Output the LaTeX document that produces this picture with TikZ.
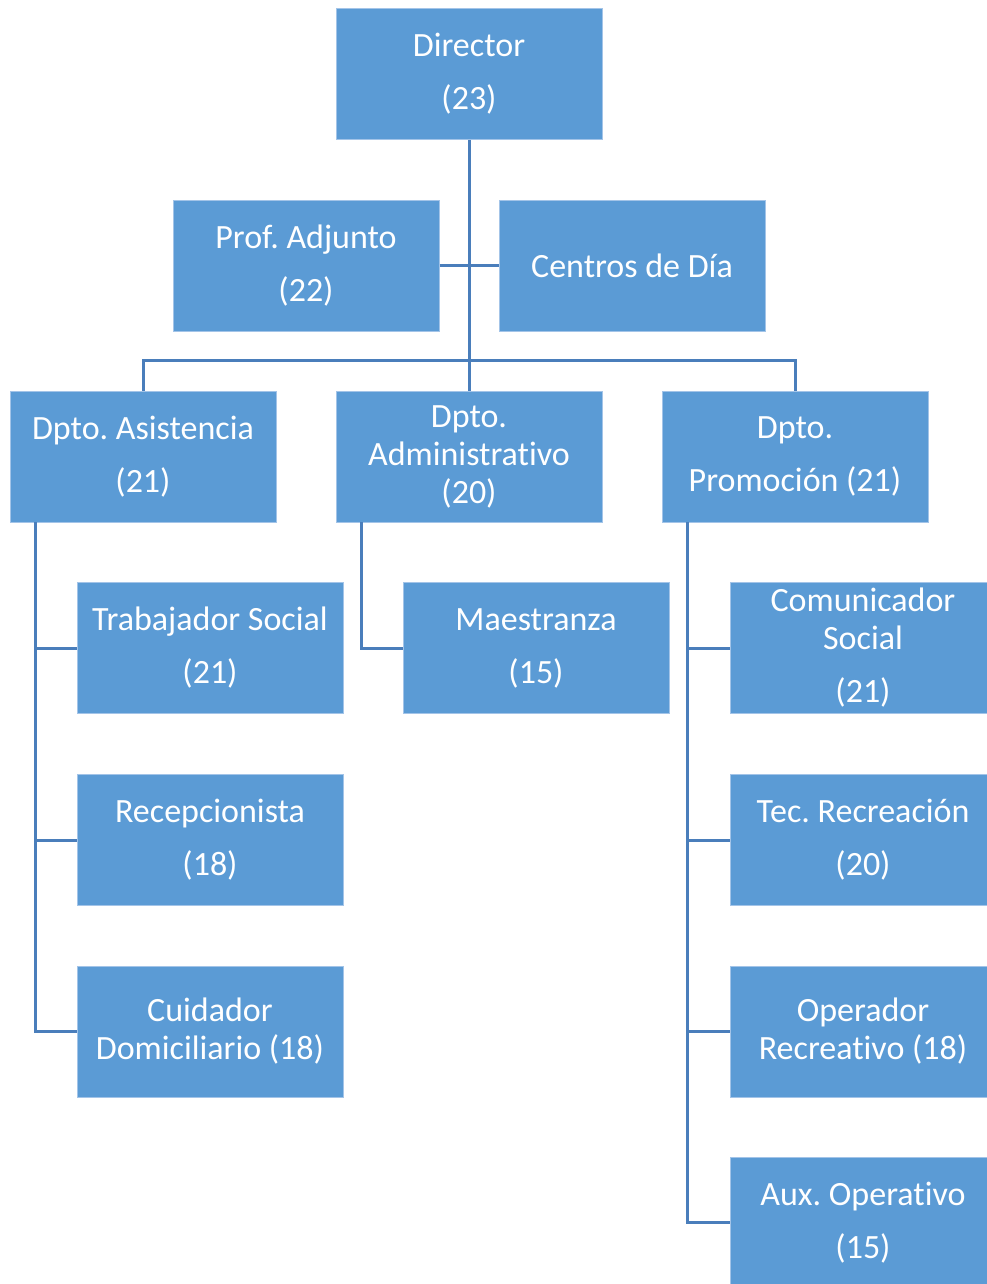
\documentclass[tikz,border=0pt]{standalone}
\usepackage{fontspec}
\setmainfont{Carlito}[Ligatures=NoCommon]
\frenchspacing
\definecolor{boxfill}{HTML}{5B9BD5}
\definecolor{boxline}{HTML}{A3C4E8}
\definecolor{conn}{HTML}{4A7EBB}
\begin{document}
\begin{tikzpicture}[x=1pt,y=-1pt,
  box/.style={rectangle, fill=boxfill, draw=boxline, line width=1pt,
    minimum width=266pt, minimum height=131pt, inner sep=0pt,
    text=white, align=center, font=\fontsize{34}{38}\selectfont\frenchspacing},
  link/.style={draw=conn, line width=3pt}]
\useasboundingbox (0,0) rectangle (986,1284);
\node[box] (director) at (469,74) {Director\\[15pt](23)};
\node[box] (prof) at (306,265.5) {Prof. Adjunto\\[15pt](22)};
\node[box] (centros) at (632,265.5) {Centros de Día};
\node[box] (asis) at (143,456.5) {Dpto. Asistencia\\[15pt](21)};
\node[box] (admin) at (469,456.5) {Dpto.\\Administrativo\\(20)};
\node[box] (promo) at (795,456.5) {Dpto.\\[15pt]Promoción (21)};
\node[box] (trab) at (210,648) {Trabajador Social\\[15pt](21)};
\node[box] (recep) at (210,840) {Recepcionista\\[15pt](18)};
\node[box] (cuid) at (210,1031.5) {Cuidador\\Domiciliario (18)};
\node[box] (maes) at (536,648) {Maestranza\\[15pt](15)};
\node[box] (comu) at (863,648) {Comunicador\\Social\\[15pt](21)};
\node[box] (tec) at (863,840) {Tec. Recreación\\[15pt](20)};
\node[box] (oper) at (863,1031.5) {Operador\\Recreativo (18)};
\node[box] (aux) at (863,1222.5) {Aux. Operativo\\[15pt](15)};
\coordinate (hub) at (469,360);
\coordinate (lefttop) at (35,522);
\coordinate (midtop) at (361,522);
\coordinate (righttop) at (687,522);
\draw[link] (director.south) -- (admin.north);
\draw[link] (prof.east) -- (centros.west);
\draw[link] (asis.north) |- (hub) -| (promo.north);
\draw[link] (lefttop) |- (cuid.west);
\draw[link] (lefttop |- trab.west) -- (trab.west);
\draw[link] (lefttop |- recep.west) -- (recep.west);
\draw[link] (midtop) |- (maes.west);
\draw[link] (righttop) |- (aux.west);
\draw[link] (righttop |- comu.west) -- (comu.west);
\draw[link] (righttop |- tec.west) -- (tec.west);
\draw[link] (righttop |- oper.west) -- (oper.west);
\end{tikzpicture}
\end{document}
